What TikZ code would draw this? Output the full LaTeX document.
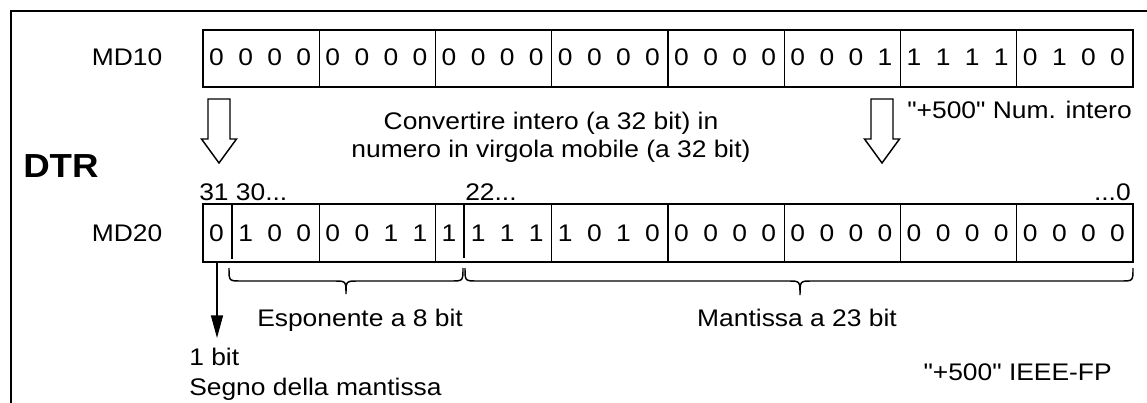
\documentclass[tikz,border=0pt]{standalone}
\usepackage{fontspec}
\setmainfont[FakeStretch=1.1,Ligatures=TeXOff]{Liberation Sans}
\usetikzlibrary{arrows.meta}
\begin{document}
\begin{tikzpicture}[x=0.75pt,y=-0.75pt,
  txt/.style={inner sep=0pt,font=\fontsize{18}{21}\selectfont},
  cellbox/.style={draw,line width=1.1pt},
  bitline/.style={line width=1.1pt},
  hollow/.style={draw,line width=1.1pt,fill=white,line join=miter},
  bracepath/.style={draw,line width=1.1pt},
  frameline/.style={line width=1.2pt}]
\useasboundingbox (0,0) rectangle (1147,403);
% frame
\draw[frameline] (11,403) -- (11,11) -- (1147,11);
% labels
\node[txt,anchor=base] (md10) at (127,66) {MD10};
\node[txt,anchor=base] (md20) at (127,241) {MD20};
\node[inner sep=0pt,anchor=base west,font=\fontsize{25}{30}\selectfont\bfseries] (dtr) at (23,177) {DTR};
% MD10 register
\draw[cellbox] (203,30) rectangle (1133,87);
\foreach \k in {1,...,7} \draw[bitline] ({203+116.25*\k},30) -- ({203+116.25*\k},87);
\foreach \b [count=\i from 0] in {0,0,0,0, 0,0,0,0, 0,0,0,0, 0,0,0,0, 0,0,0,0, 0,0,0,1, 1,1,1,1, 0,1,0,0}
  \node[txt,anchor=base] (a\i) at ({203+29.0625*(\i+0.5)-1},66) {\b};
% MD20 register
\draw[cellbox] (203,204) rectangle (1133,262);
\foreach \k in {1,2,3,4,5,6,7} \draw[bitline] ({203+116.25*\k},204) -- ({203+116.25*\k},262);
\draw[bitline] (232,204) -- (232,259);
\draw[bitline] (464,204) -- (464,258);
\foreach \b [count=\i from 0] in {0,1,0,0, 0,0,1,1, 1,1,1,1, 1,0,1,0, 0,0,0,0, 0,0,0,0, 0,0,0,0, 0,0,0,0}
  \node[txt,anchor=base] (b\i) at ({203+29.0625*(\i+0.5)-1},241.5) {\b};
% bit position labels
\node[txt,anchor=base west] (p31) at (199,200) {31 30...};
\node[txt,anchor=base west] (p22) at (465,200) {22...};
\node[txt,anchor=base east] (p0) at (1131,200) {...0};
% hollow arrows
\draw[hollow] (208,99) -- (230,99) -- (230,139) -- (236.5,139) -- (219,163) -- (201.5,139) -- (208,139) -- cycle;
\draw[hollow] (871,99) -- (893,99) -- (893,139) -- (899.5,139) -- (882,163) -- (864.5,139) -- (871,139) -- cycle;
% texts
\node[txt,anchor=base] (conv1) at (551,129) {Convertire intero (a 32 bit) in};
\node[txt,anchor=base] (conv2) at (551,157) {numero in virgola mobile (a 32 bit)};
\node[txt,anchor=base east] (intlab) at (1132,118) {"+500" Num. intero};
% braces
\draw[bracepath] (229,268) .. controls (229,281) .. (241,281) -- (334,281) .. controls (346,281) .. (346,294) .. controls (346,281) .. (358,281) -- (451,281) .. controls (463,281) .. (463,268);
\draw[bracepath] (465,268) .. controls (465,281) .. (477,281) -- (788,281) .. controls (800,281) .. (800,295) .. controls (800,281) .. (812,281) -- (1121,281) .. controls (1133,281) .. (1133,268);
\node[txt,anchor=base] (esp) at (360,326) {Esponente a 8 bit};
\node[txt,anchor=base] (mant) at (797,326) {Mantissa a 23 bit};
% sign arrow
\coordinate (signtop) at (217,262);
\coordinate (signend) at (217,338);
\draw[line width=1.1pt,-{Triangle[length=17pt,width=9pt]}] (signtop) -- (signend);
\node[txt,anchor=base west] (onebit) at (189,365) {1 bit};
\node[txt,anchor=base west] (segno) at (189,395) {Segno della mantissa};
\node[txt,anchor=base east] (ieee) at (1112,380) {"+500" IEEE-FP};
\end{tikzpicture}
\end{document}
